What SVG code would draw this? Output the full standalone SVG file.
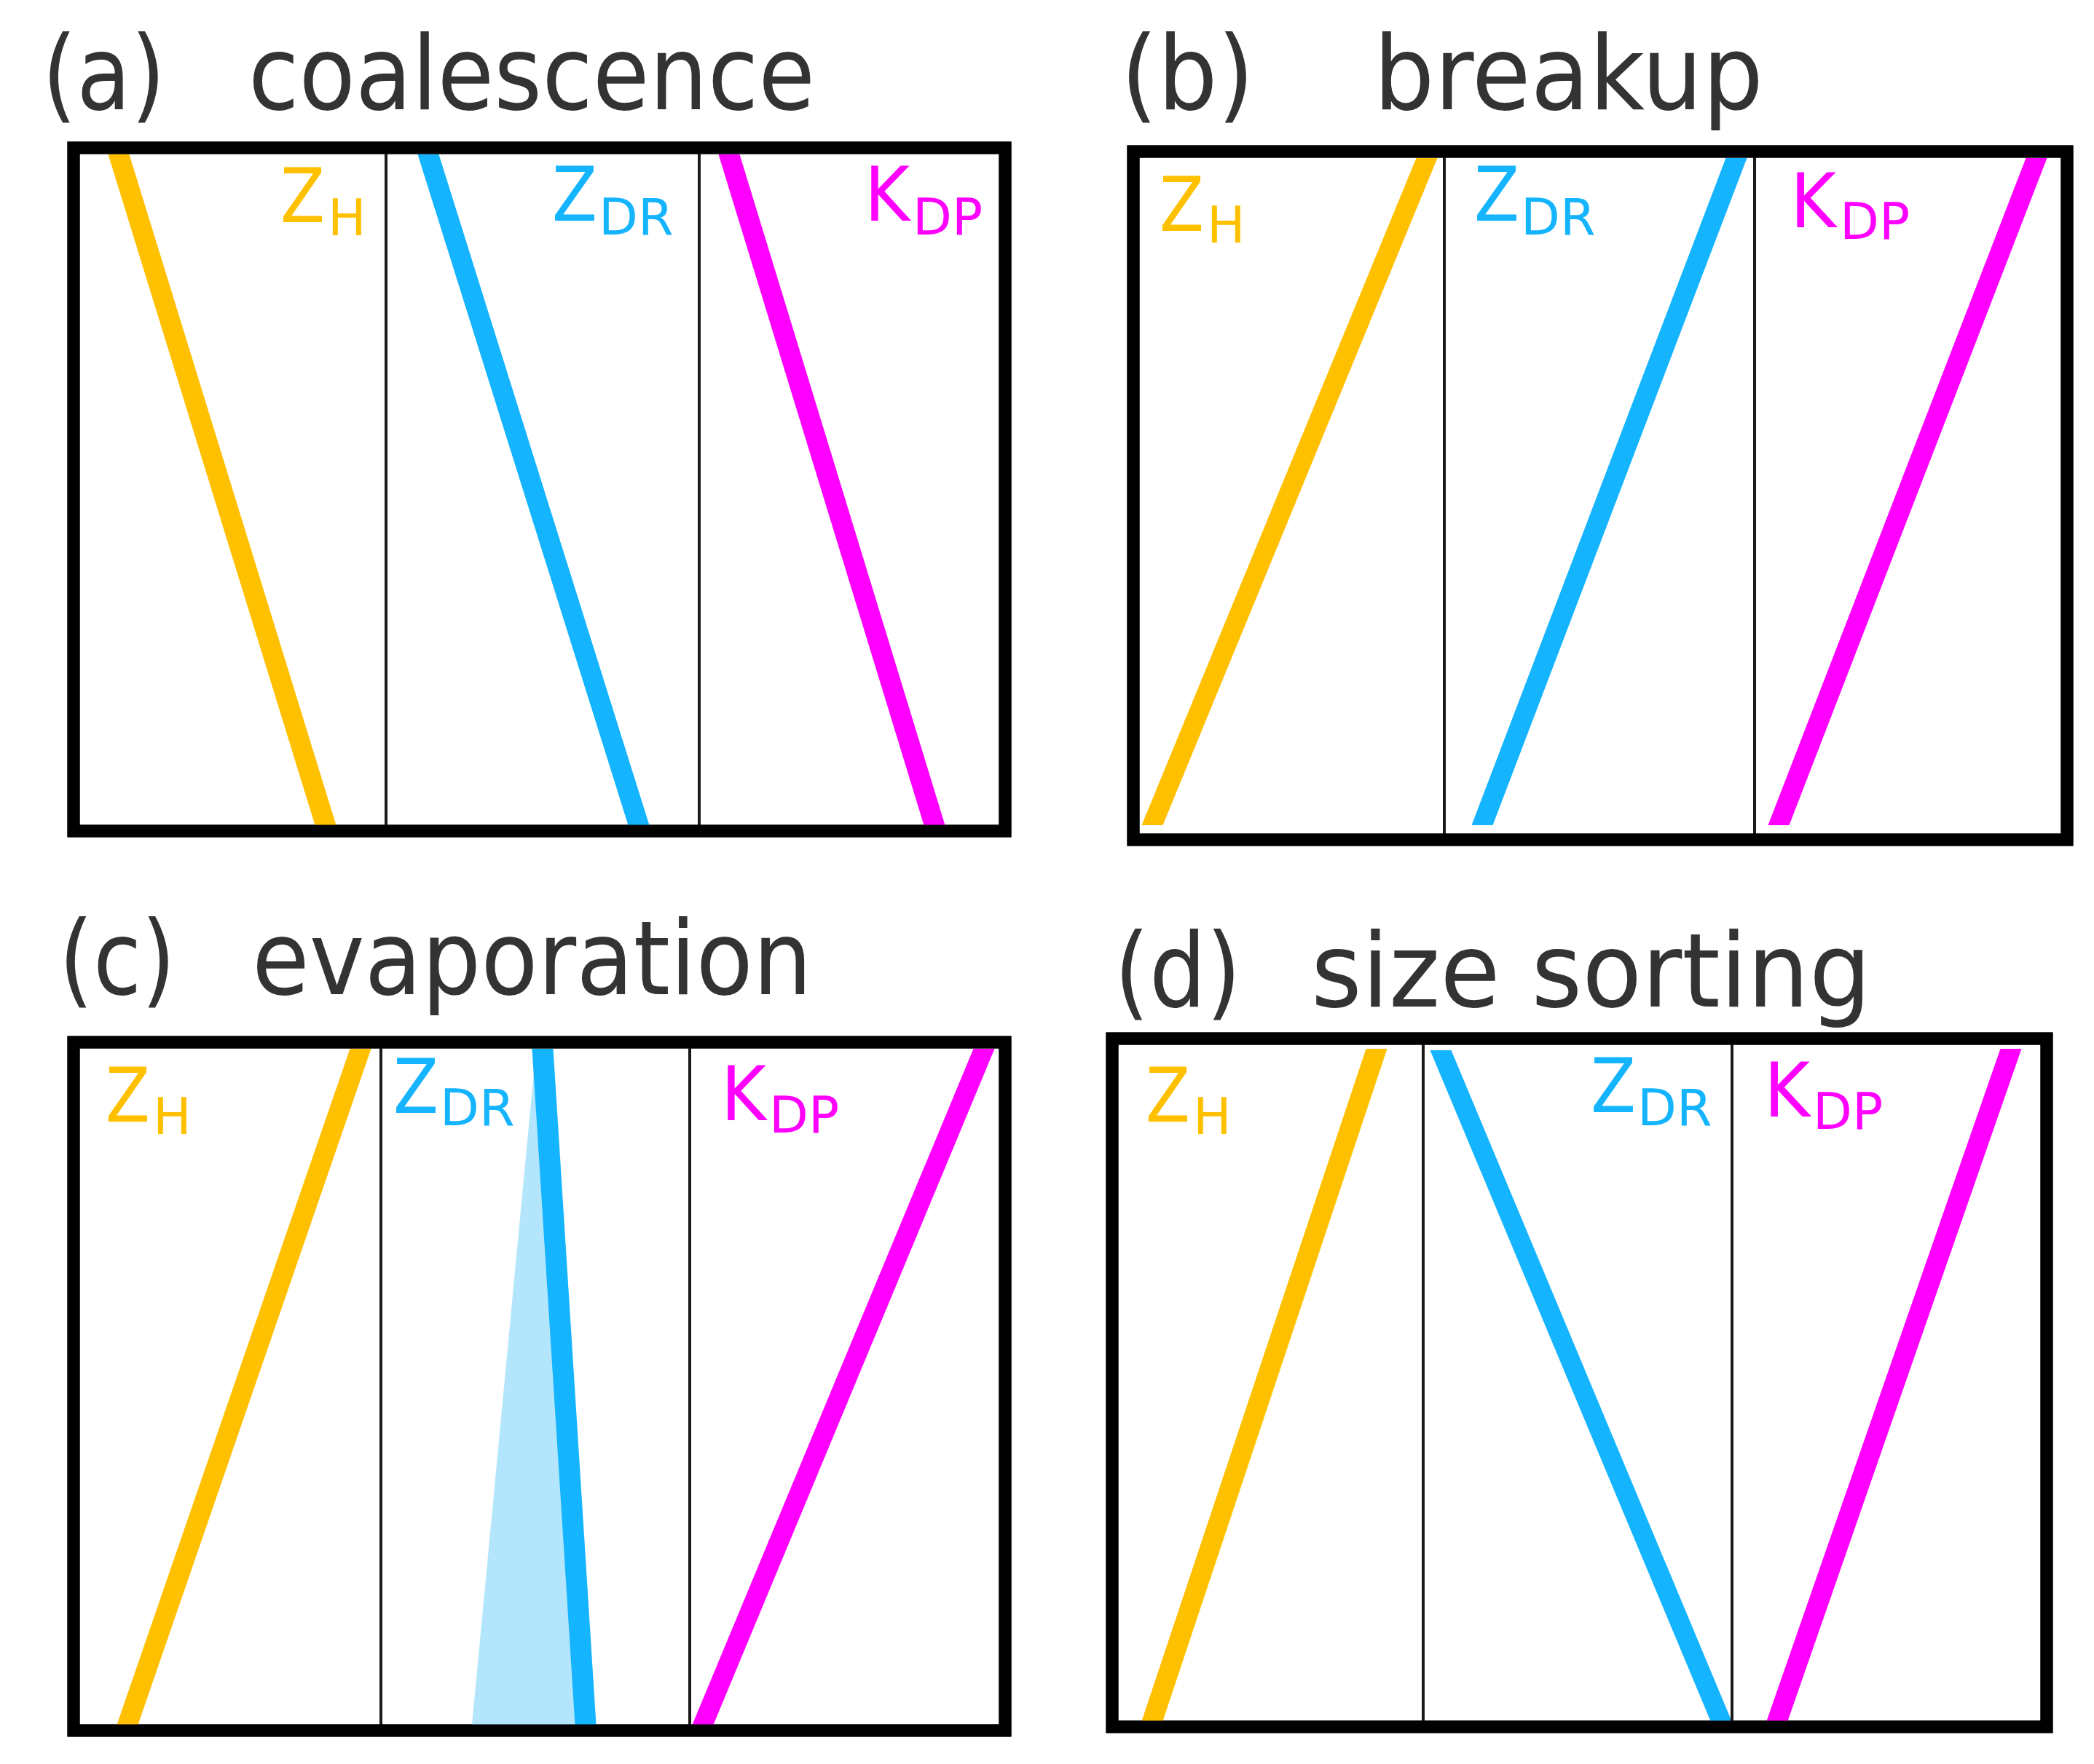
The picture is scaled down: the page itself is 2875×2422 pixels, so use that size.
<svg xmlns="http://www.w3.org/2000/svg" width="2875" height="2422" viewBox="0 0 2875 2422">
<style>
.frame{fill:#fff;stroke:#000;stroke-width:17}
.div{stroke:#1a1a1a;stroke-width:4}
.title{font-family:"DejaVu Sans","Liberation Sans",sans-serif;font-size:140px;fill:#333}
.lab{font-family:"DejaVu Sans","Liberation Sans",sans-serif;font-size:104px}
.sub{font-family:"DejaVu Sans","Liberation Sans",sans-serif;font-size:70px}
.y{fill:#ffc000}
.b{fill:#14b4ff}
.m{fill:#ff00ff}
.shade{fill:#b3e6fc}
</style>
<rect width="2875" height="2422" fill="#fff"/>

<g id="panel-a">
<text class="title" x="58" y="150" textLength="169" lengthAdjust="spacingAndGlyphs">(a)</text>
<text class="title" x="341" y="150" textLength="778" lengthAdjust="spacingAndGlyphs">coalescence</text>
<rect class="frame" x="101" y="203" width="1279" height="938"/>
<polygon class="y" points="148.5,212 177.5,212 461.5,1133 432.5,1133"/>
<polygon class="b" points="573.5,212 602.5,212 891.5,1133 862.5,1133"/>
<polygon class="m" points="986.5,212 1015.5,212 1297.5,1133 1268.5,1133"/>
<line class="div" x1="530" y1="211" x2="530" y2="1133"/>
<line class="div" x1="960" y1="211" x2="960" y2="1133"/>
<rect x="101" y="203" width="1279" height="938" fill="none" stroke="#000" stroke-width="17"/>
<g id="a-zh"><text class="lab y" x="385" y="305" textLength="61" lengthAdjust="spacingAndGlyphs">Z</text><text class="sub y" x="450" y="323">H</text></g>
<g id="a-zdr"><text class="lab b" x="758" y="303" textLength="62" lengthAdjust="spacingAndGlyphs">Z</text><text class="sub b" x="822" y="322">DR</text></g>
<g id="a-kdp"><text class="lab m" x="1187" y="303" textLength="62" lengthAdjust="spacingAndGlyphs">K</text><text class="sub m" x="1253" y="322">DP</text></g>
</g>

<g id="panel-b">
<text class="title" x="1539" y="150" textLength="183" lengthAdjust="spacingAndGlyphs">(b)</text>
<text class="title" x="1886" y="150" textLength="535" lengthAdjust="spacingAndGlyphs">breakup</text>
<rect class="frame" x="1556" y="208" width="1282" height="945"/>
<polygon class="y" points="1944.5,217 1973.5,217 1596.5,1133 1567.5,1133"/>
<polygon class="b" points="2369.5,217 2398.5,217 2049.5,1133 2020.5,1133"/>
<polygon class="m" points="2781.5,217 2810.5,217 2456.5,1133 2427.5,1133"/>
<line class="div" x1="1983" y1="216" x2="1983" y2="1145"/>
<line class="div" x1="2409" y1="216" x2="2409" y2="1145"/>
<rect x="1556" y="208" width="1282" height="945" fill="none" stroke="#000" stroke-width="17"/>
<g id="b-zh"><text class="lab y" x="1592" y="317" textLength="61" lengthAdjust="spacingAndGlyphs">Z</text><text class="sub y" x="1657" y="333">H</text></g>
<g id="b-zdr"><text class="lab b" x="2024" y="303" textLength="62" lengthAdjust="spacingAndGlyphs">Z</text><text class="sub b" x="2088" y="322">DR</text></g>
<g id="b-kdp"><text class="lab m" x="2458" y="312" textLength="63" lengthAdjust="spacingAndGlyphs">K</text><text class="sub m" x="2526" y="328">DP</text></g>
</g>

<g id="panel-c">
<text class="title" x="81" y="1365" textLength="160" lengthAdjust="spacingAndGlyphs">(c)</text>
<text class="title" x="346" y="1365" textLength="769" lengthAdjust="spacingAndGlyphs">evaporation</text>
<rect class="frame" x="101" y="1431" width="1279" height="945"/>
<polygon class="shade" points="736,1440 745,1440 804,2368 648,2368"/>
<polygon class="y" points="480.5,1440 509.5,1440 189.5,2368 160.5,2368"/>
<polygon class="b" points="730.5,1440 759.5,1440 818.5,2368 789.5,2368"/>
<polygon class="m" points="1336.5,1440 1365.5,1440 979.5,2368 950.5,2368"/>
<line class="div" x1="523" y1="1439" x2="523" y2="2368"/>
<line class="div" x1="947" y1="1439" x2="947" y2="2368"/>
<rect x="101" y="1431" width="1279" height="945" fill="none" stroke="#000" stroke-width="17"/>
<g id="c-zh"><text class="lab y" x="145" y="1540" textLength="61" lengthAdjust="spacingAndGlyphs">Z</text><text class="sub y" x="210" y="1557">H</text></g>
<g id="c-zdr"><text class="lab b" x="540" y="1528" textLength="62" lengthAdjust="spacingAndGlyphs">Z</text><text class="sub b" x="604" y="1545">DR</text></g>
<g id="c-kdp"><text class="lab m" x="990" y="1538" textLength="62" lengthAdjust="spacingAndGlyphs">K</text><text class="sub m" x="1056" y="1555">DP</text></g>
</g>

<g id="panel-d">
<text class="title" x="1530" y="1382" textLength="174" lengthAdjust="spacingAndGlyphs">(d)</text>
<text class="title" x="1800" y="1382" textLength="769" lengthAdjust="spacingAndGlyphs">size sorting</text>
<rect class="frame" x="1527" y="1426" width="1283" height="945"/>
<polygon class="y" points="1875.5,1440 1904.5,1440 1596.5,2363 1567.5,2363"/>
<polygon class="b" points="1963.5,1442 1992.5,1442 2377.5,2363 2348.5,2363"/>
<polygon class="m" points="2746.5,1440 2775.5,1440 2454.5,2363 2425.5,2363"/>
<line class="div" x1="1954" y1="1434" x2="1954" y2="2363"/>
<line class="div" x1="2378" y1="1434" x2="2378" y2="2363"/>
<rect x="1527" y="1426" width="1283" height="945" fill="none" stroke="#000" stroke-width="17"/>
<g id="d-zh"><text class="lab y" x="1573" y="1540" textLength="61" lengthAdjust="spacingAndGlyphs">Z</text><text class="sub y" x="1638" y="1557">H</text></g>
<g id="d-zdr"><text class="lab b" x="2184" y="1527" textLength="62" lengthAdjust="spacingAndGlyphs">Z</text><text class="sub b" x="2248" y="1545">DR</text></g>
<g id="d-kdp"><text class="lab m" x="2422" y="1533" textLength="63" lengthAdjust="spacingAndGlyphs">K</text><text class="sub m" x="2489" y="1550">DP</text></g>
</g>

<g id="connectors"></g>
</svg>
